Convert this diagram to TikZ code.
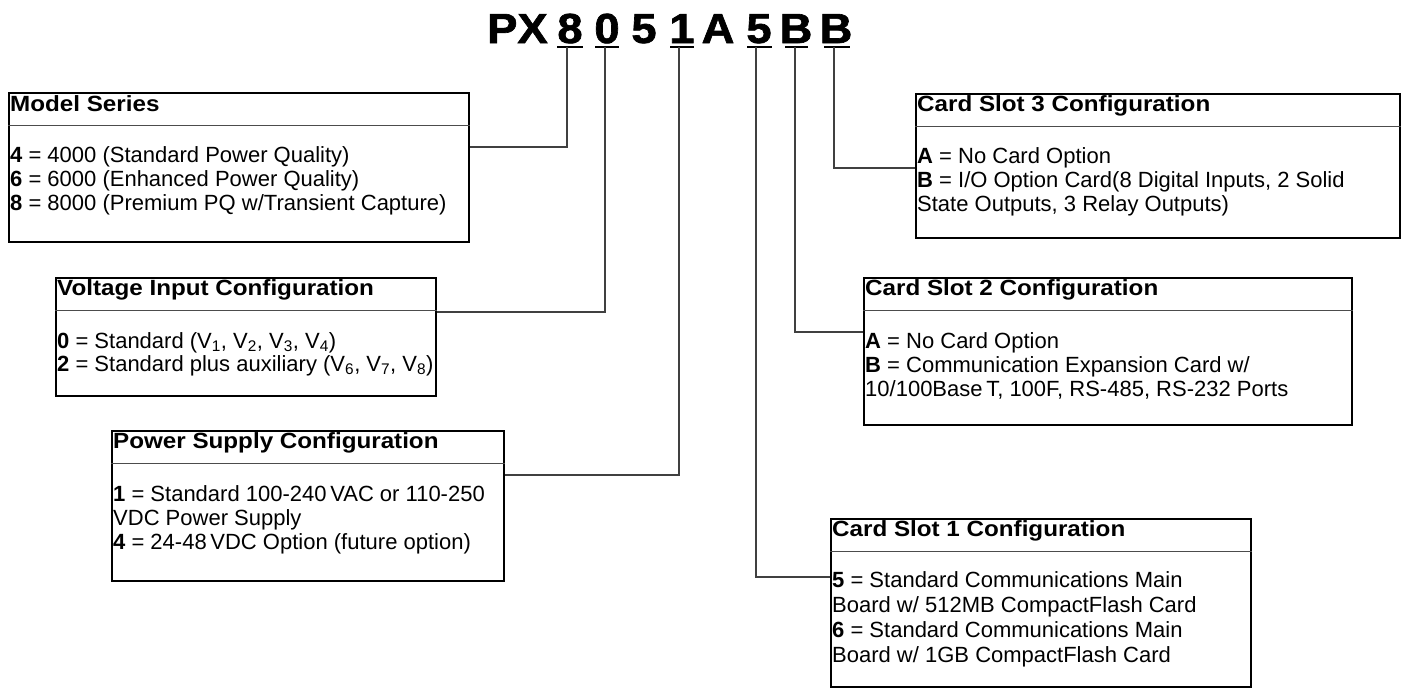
\documentclass[tikz,border=0pt]{standalone}
\usepackage{fontspec}
\setmainfont{Liberation Sans}
\newfontfamily\hdfont[FakeStretch=1.1]{Liberation Sans}
\newfontfamily\ttlfont[FakeStretch=1.08,FakeBold=1.6]{Liberation Sans}
\begin{document}
\begin{tikzpicture}[x=1pt,y=-1pt,
 box/.style={draw=black, line width=2.4pt, anchor=north west, inner sep=0pt},
 divl/.style={draw=black!70, line width=1.1pt},
 conn/.style={draw=black!75, line width=1.2pt},
 uline/.style={draw=black, line width=2pt},
 hd/.style={anchor=base west, inner sep=0pt, font=\hdfont\bfseries\fontsize{22}{22}\selectfont},
 body/.style={anchor=base west, inner sep=0pt, font=\fontsize{22}{22}\selectfont},
 ttl/.style={anchor=base, inner sep=0pt, font=\ttlfont\bfseries\fontsize{42}{42}\selectfont}]
\useasboundingbox[fill=white] (0,0) rectangle (1401,688);

% title
\node[ttl, anchor=base west] (px) at (487,43) {PX};
\node[ttl] (t8) at (570,43) {8};
\node[ttl] (t0) at (607,43) {0};
\node[ttl] (t5a) at (644,43) {5};
\node[ttl] (t1) at (682,43) {1};
\node[ttl] (tA) at (718,43) {A};
\node[ttl] (t5) at (759,43) {5};
\node[ttl] (tB1) at (796,43) {B};
\node[ttl] (tB2) at (836,43) {B};
\coordinate (u8) at (567,47);
\coordinate (u0) at (605,47);
\coordinate (u1) at (679,47);
\coordinate (u5) at (756,47);
\coordinate (uB1) at (795,47);
\coordinate (uB2) at (834,47);
\draw[uline] (557,47) -- (583,47);
\draw[uline] (595,47) -- (619,47);
\draw[uline] (670,47) -- (694,47);
\draw[uline] (747,47) -- (772,47);
\draw[uline] (785,47) -- (808,47);
\draw[uline] (824,47) -- (850,47);

% boxes
\node[box, minimum width=460pt, minimum height=149pt] (ms) at (8,92) {};
\node[box, minimum width=380pt, minimum height=118pt] (vi) at (55,277) {};
\node[box, minimum width=392pt, minimum height=150pt] (ps) at (111,430) {};
\node[box, minimum width=484pt, minimum height=144pt] (c3) at (915,93) {};
\node[box, minimum width=488pt, minimum height=147pt] (c2) at (863,277) {};
\node[box, minimum width=420pt, minimum height=168pt] (c1) at (830,518) {};

\foreach \b in {ms,vi,ps,c3,c2,c1}
  \draw[divl] ([yshift=-33.5pt]\b.north west) -- ([yshift=-33.5pt]\b.north east);

% connectors
\draw[conn] (ms.east |- 0,147) -| (u8);
\draw[conn] (vi.east |- 0,312) -| (u0);
\draw[conn] (ps.east |- 0,475) -| (u1);
\draw[conn] (c1.west |- 0,577) -| (u5);
\draw[conn] (c2.west |- 0,332) -| (uB1);
\draw[conn] (c3.west |- 0,168) -| (uB2);

% Model Series
\node[hd] (msh) at (10,111) {Model Series};
\node[body] (ms1) at (10,162) {{\bfseries 4} = 4000 (Standard Power Quality)};
\node[body] (ms2) at (10,186) {{\bfseries 6} = 6000 (Enhanced Power Quality)};
\node[body] (ms3) at (10,210) {{\bfseries 8} = 8000 (Premium PQ w/Transient Capture)};

% Voltage Input
\node[hd] (vih) at (57,295) {Voltage Input Configuration};
\node[body] (vi1) at (57,348) {{\bfseries 0} = Standard (V\textsubscript{1}, V\textsubscript{2}, V\textsubscript{3}, V\textsubscript{4})};
\node[body] (vi2) at (57,371) {{\bfseries 2} = Standard plus auxiliary (V\textsubscript{6}, V\textsubscript{7}, V\textsubscript{8})};

% Power Supply
\node[hd] (psh) at (113,448) {Power Supply Configuration};
\node[body] (ps1) at (113,501) {{\bfseries 1} = Standard 100-240\,VAC or 110-250};
\node[body] (ps2) at (113,525) {VDC Power Supply};
\node[body] (ps3) at (113,549) {{\bfseries 4} = 24-48\,VDC Option (future option)};

% Card Slot 3
\node[hd] (c3h) at (917,111) {Card Slot 3 Configuration};
\node[body] (c31) at (917,163) {{\bfseries A} = No Card Option};
\node[body] (c32) at (917,187) {{\bfseries B} = I/O Option Card(8 Digital Inputs, 2 Solid};
\node[body] (c33) at (917,211) {State Outputs, 3 Relay Outputs)};

% Card Slot 2
\node[hd] (c2h) at (865,295) {Card Slot 2 Configuration};
\node[body] (c21) at (865,348) {{\bfseries A} = No Card Option};
\node[body] (c22) at (865,372) {{\bfseries B} = Communication Expansion Card w/};
\node[body] (c23) at (865,396) {10/100Base\,T, 100F, RS-485, RS-232 Ports};

% Card Slot 1
\node[hd] (c1h) at (832,536) {Card Slot 1 Configuration};
\node[body] (c11) at (832,587) {{\bfseries 5} = Standard Communications Main};
\node[body] (c12) at (832,612) {Board w/ 512MB CompactFlash Card};
\node[body] (c13) at (832,637) {{\bfseries 6} = Standard Communications Main};
\node[body] (c14) at (832,662) {Board w/ 1GB CompactFlash Card};
\end{tikzpicture}
\end{document}
